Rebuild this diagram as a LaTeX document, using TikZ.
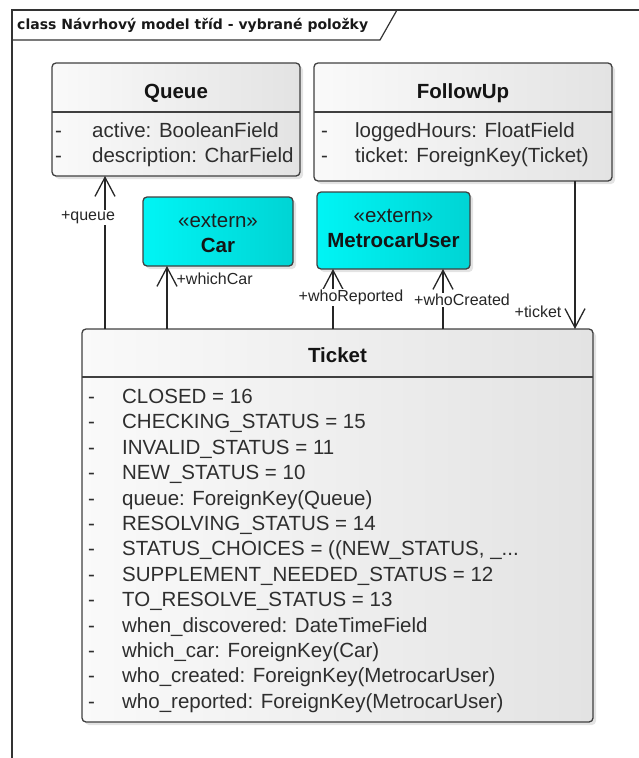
\documentclass[tikz,border=0pt]{standalone}
\usepackage{fontspec}
\setmainfont{Liberation Sans}
\newfontfamily\framefont{DejaVu Sans}
\usetikzlibrary{arrows.meta,shadows}

\tikzset{
  classbox/.style={draw=black!75, line width=1.3pt, rounded corners=4pt, anchor=north west,
    inner sep=0pt, outer sep=0pt, left color=black!2, right color=black!11,
    drop shadow={shadow xshift=3pt, shadow yshift=-3pt, opacity=.22}},
  externbox/.style={classbox, left color={rgb,255:red,0;green,245;blue,245}, right color={rgb,255:red,0;green,212;blue,212}},
  classname/.style={anchor=base, inner sep=0pt, font=\fontsize{20.5}{25.4}\selectfont\bfseries, text=black!92},
  stereo/.style={anchor=base, inner sep=0pt, font=\fontsize{20.5}{25.4}\selectfont, text=black!88},
  attrs/.style={anchor=north west, inner sep=0pt, font=\fontsize{20.5}{25.4}\selectfont, text=black!82},
  sepline/.style={draw=black!75, line width=1.3pt},
  assoc/.style={color=black!85, line width=1.3pt, -{Straight Barb[length=19pt,width=20pt]}},
  rolelbl/.style={font=\fontsize{16}{18}\selectfont, inner sep=1pt, text=black!85}
}

\begin{document}
\begin{tikzpicture}[x=1pt,y=-1pt]
\useasboundingbox (0,0) rectangle (639,758);
\draw[black!80, line width=1.4pt] (639,10) -- (12,10) -- (12,758);
\draw[black!80, line width=1.2pt] (12,40) -- (380,40) -- (397,10);
\node[anchor=west, inner sep=0pt, font=\framefont\bfseries\fontsize{14}{16}\selectfont, text=black!90] (frametitle) at (17,25) {class Návrhový model tříd - vybrané položky};

\node[classbox, minimum width=248pt, minimum height=113pt] (queue) at (52,63) {};
\draw[sepline] (queue.west |- 0,112) -- (queue.east |- 0,112);
\node[classname] (queuename) at (176,98.5) {Queue};
\node[attrs] (queueattrs) at (55,119.5) {\begin{tabular}{@{}p{37pt}@{}l@{}}
- & active: BooleanField\\
- & description: CharField
\end{tabular}};

\node[classbox, minimum width=298pt, minimum height=118pt] (followup) at (314,63) {};
\draw[sepline] (followup.west |- 0,112) -- (followup.east |- 0,112);
\node[classname] (followupname) at (463,98.5) {FollowUp};
\node[attrs] (followupattrs) at (321,119.5) {\begin{tabular}{@{}p{34pt}@{}l@{}}
- & loggedHours: FloatField\\
- & ticket: ForeignKey(Ticket)
\end{tabular}};

\node[externbox, minimum width=150pt, minimum height=69pt] (car) at (143,197) {};
\node[stereo] (carstereo) at (218,227) {«extern»};
\node[classname] (carname) at (218,252) {Car};

\node[externbox, minimum width=153pt, minimum height=77pt] (metro) at (317,192) {};
\node[stereo] (metrostereo) at (393.5,222) {«extern»};
\node[classname] (metroname) at (393.5,247) {MetrocarUser};

\node[classbox, minimum width=511pt, minimum height=393pt] (ticket) at (82,329) {};
\draw[sepline] (ticket.west |- 0,377) -- (ticket.east |- 0,377);
\node[classname] (ticketname) at (337.5,362) {Ticket};
\node[attrs] (ticketattrs) at (88,385.5) {\begin{tabular}{@{}p{34pt}@{}l@{}}
- & CLOSED = 16\\
- & CHECKING\_STATUS = 15\\
- & INVALID\_STATUS = 11\\
- & NEW\_STATUS = 10\\
- & queue: ForeignKey(Queue)\\
- & RESOLVING\_STATUS = 14\\
- & STATUS\_CHOICES = ((NEW\_STATUS, \_...\\
- & SUPPLEMENT\_NEEDED\_STATUS = 12\\
- & TO\_RESOLVE\_STATUS = 13\\
- & when\_discovered: DateTimeField\\
- & which\_car: ForeignKey(Car)\\
- & who\_created: ForeignKey(MetrocarUser)\\
- & who\_reported: ForeignKey(MetrocarUser)
\end{tabular}};

\path[assoc]
  ([xshift=23pt]ticket.north west) edge node[rolelbl, fill=white, pos=.73, xshift=-17pt] {+queue} ([xshift=53pt]queue.south west)
  ([xshift=85pt]ticket.north west) edge node[rolelbl, anchor=west, pos=.79, xshift=8pt] {+whichCar} ([xshift=24pt]car.south west)
  ([xshift=251pt]ticket.north west) edge node[rolelbl, fill=white, pos=.53, xshift=18pt] {+whoReported} ([xshift=16pt]metro.south west)
  ([xshift=361pt]ticket.north west) edge node[rolelbl, fill=white, pos=.48, xshift=19pt] {+whoCreated} ([xshift=126pt]metro.south west)
  ([xshift=261pt]followup.south west) edge node[rolelbl, pos=.885, xshift=-37pt] {+ticket} ([xshift=493pt]ticket.north west);
\end{tikzpicture}
\end{document}
